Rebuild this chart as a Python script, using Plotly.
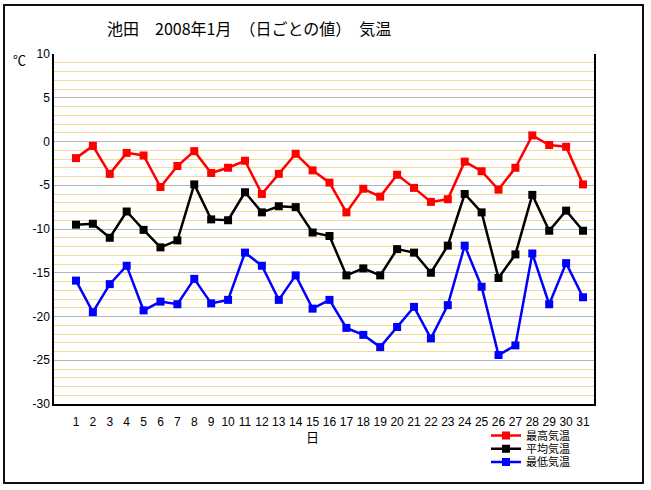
import plotly.graph_objects as go

# 池田 2008年1月 日ごとの気温 (℃)
days = list(range(1, 32))

max_temp = [-1.9, -0.5, -3.7, -1.3, -1.6, -5.2, -2.8, -1.1, -3.6, -3.0,
            -2.2, -6.0, -3.7, -1.4, -3.3, -4.7, -8.1, -5.4, -6.3, -3.8,
            -5.3, -6.9, -6.6, -2.3, -3.4, -5.5, -3.0, 0.7, -0.4, -0.6, -4.9]

mean_temp = [-9.5, -9.4, -11.0, -8.0, -10.1, -12.1, -11.3, -4.9, -8.9, -9.0,
             -5.8, -8.1, -7.4, -7.5, -10.4, -10.8, -15.3, -14.5, -15.3, -12.3,
             -12.7, -15.0, -11.9, -6.0, -8.1, -15.6, -12.9, -6.1, -10.2, -7.9, -10.2]

min_temp = [-15.9, -19.5, -16.3, -14.2, -19.3, -18.3, -18.6, -15.7, -18.5, -18.1,
            -12.7, -14.2, -18.1, -15.3, -19.1, -18.1, -21.3, -22.1, -23.5, -21.2,
            -18.9, -22.5, -18.7, -11.9, -16.6, -24.4, -23.3, -12.8, -18.6, -13.9, -17.8]

y_ticks = [10, 5, 0, -5, -10, -15, -20, -25, -30]
y_labels = ["10", "5", "0", "-5", "-10", "-15", "-20", "-25", "-30"]

series = [
    ("最高気温", max_temp, "#ff0000", "legend"),
    ("平均気温", mean_temp, "#000000", "legend2"),
    ("最低気温", min_temp, "#0000ff", "legend3"),
]

jp = "Noto Sans CJK JP"

fig = go.Figure()
for name, vals, col, lg in series:
    fig.add_trace(go.Scatter(
        x=days, y=vals, name=name, mode="lines+markers",
        line=dict(color=col, width=2.5),
        marker=dict(symbol="square", size=8, color=col),
        legend=lg,
    ))

# vertical grid only at 10 and 20
for d in (10, 20):
    fig.add_vline(x=d, line=dict(color="#b4b4b4", width=1), layer="below")

leg_style = dict(x=0.80, xanchor="left", yanchor="middle",
                 font=dict(family=jp, size=11), bgcolor="rgba(0,0,0,0)",
                 itemwidth=30)

fig.update_layout(
    width=651, height=490,
    margin=dict(l=54, r=57, t=54, b=86),
    paper_bgcolor="white", plot_bgcolor="white",
    font=dict(family="Liberation Sans", size=12, color="black"),
    showlegend=True,
    legend=dict(y=-0.09, **leg_style),
    legend2=dict(y=-0.128, **leg_style),
    legend3=dict(y=-0.166, **leg_style),
    xaxis=dict(range=[-0.3, 31.65], tickvals=days, showgrid=False,
               zeroline=False, showline=True, linecolor="black", linewidth=1.5,
               ticks="", ticklabelstandoff=6, tickfont=dict(size=12)),
    yaxis=dict(range=[-30, 10], tickvals=y_ticks, ticktext=y_labels,
               showgrid=True, gridcolor="#b4b4b4", gridwidth=1,
               minor=dict(dtick=1, showgrid=True, gridcolor="#f0dc96", gridwidth=1),
               zeroline=False, showline=True, mirror=True, linecolor="black",
               linewidth=1.5, ticks="", tickfont=dict(size=12)),
    shapes=[dict(type="rect", xref="paper", yref="paper",
                 x0=-0.0926, x1=1.0907, y0=-0.2257, y1=1.14,
                 line=dict(color="black", width=1.5), layer="below")],
    annotations=[
        dict(text="池田　2008年1月　（日ごとの値）　気温", xref="paper", yref="paper",
             x=0.094, y=1.074, xanchor="left", yanchor="middle", showarrow=False,
             font=dict(family=jp, size=16)),
        dict(text="℃", xref="paper", yref="paper", x=-0.063, y=0.983,
             xanchor="center", yanchor="middle", showarrow=False,
             font=dict(family=jp, size=13)),
        dict(text="日", xref="x", yref="paper", x=15, y=-0.094,
             xanchor="center", yanchor="middle", showarrow=False,
             font=dict(family=jp, size=13)),
    ],
)

# page body has a default 8px margin; drop it so the figure sits at 0,0
fig.write_html("out.html", config={"displayModeBar": False},
               post_script="document.body.style.margin='0';")
